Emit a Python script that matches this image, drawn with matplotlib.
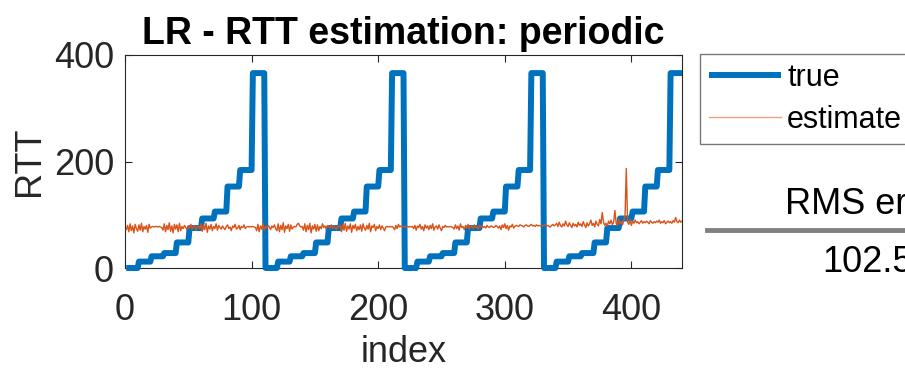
import numpy as np
import matplotlib
matplotlib.use('Agg')
import matplotlib.pyplot as plt

plt.rcParams['font.family'] = ['Liberation Sans Narrow', 'Liberation Sans', 'DejaVu Sans']

# step levels of the true RTT, one value per 10 samples, 4 periods
true_levels = [0, 12, 22, 28, 48, 75, 93, 106, 153, 184, 366,
               0, 12, 22, 28, 48, 75, 93, 106, 153, 184, 366,
               0, 12, 22, 28, 48, 75, 93, 106, 153, 184, 366,
               0, 12, 22, 28, 48, 75, 93, 106, 153, 184, 366]
samples_per_step = 10

estimate = [
    72, 80, 68, 83, 70, 79, 66, 82, 74, 69, 81, 71, 84, 68, 78, 73, 80, 67, 82, 75,
    77, 78, 77, 78, 78, 77, 78, 77, 76, 71, 83, 68, 80, 72, 85, 69, 79, 66, 82, 73,
    81, 68, 84, 70, 78, 74, 80, 76, 72, 79, 75, 82, 73, 77, 80, 71, 76, 79, 74, 83,
    69, 81, 72, 84, 67, 79, 73, 82, 70, 78, 74, 83, 71, 80, 76, 73, 79, 75, 72, 78,
    81, 74, 77, 70, 79, 76, 82, 73, 75, 80, 72, 78, 76, 81, 74, 77, 78, 77, 78, 77,
    78, 77, 76, 70, 82, 68, 79, 73, 84, 71, 78, 75, 80, 77, 72, 79, 76, 81, 74, 70,
    83, 68, 80, 72, 85, 67, 79, 74, 82, 69, 81, 73, 77, 78, 77, 82, 84, 79, 77, 78,
    71, 83, 68, 80, 72, 84, 66, 79, 73, 82, 69, 81, 70, 78, 74, 83, 76, 79, 73, 80,
    77, 75, 81, 74, 78, 76, 72, 79, 77, 80, 68, 82, 71, 84, 69, 79, 73, 83, 67, 80,
    74, 82, 70, 78, 72, 81, 69, 83, 75, 71, 80, 73, 84, 68, 79, 76, 82, 70, 78, 74,
    81, 72, 79, 75, 70, 77, 78, 77, 78, 77, 78, 76, 72, 80, 74, 82, 77, 79, 78, 77,
    78, 77, 78, 77, 78, 77, 78, 74, 80, 71, 79, 76, 82, 73, 78, 70, 81, 75, 79, 72,
    80, 74, 83, 71, 77, 79, 73, 81, 75, 70, 78, 76, 80, 77, 78, 77, 78, 77, 76, 73,
    81, 74, 79, 71, 83, 76, 78, 72, 80, 75, 82, 73, 79, 77, 74, 81, 76, 78, 73, 80,
    77, 79, 76, 78, 75, 80, 77, 76, 79, 78, 76, 77, 80, 78, 75, 79, 72, 81, 76, 83,
    74, 80, 71, 79, 77, 82, 75, 78, 80, 79, 78, 81, 80, 79, 77, 80, 81, 79, 78, 80,
    82, 79, 80, 78, 81, 79, 80, 79, 80, 79, 80, 81, 79, 80, 78, 77, 80, 82, 79, 81,
    84, 78, 86, 80, 77, 83, 79, 88, 81, 78, 85, 80, 76, 84, 79, 82, 77, 86, 80, 83,
    78, 87, 81, 76, 85, 79, 83, 90, 80, 84, 77, 88, 82, 79, 91, 83, 104, 86, 80, 84,
    79, 88, 83, 90, 81, 86, 108, 84, 80, 92, 83, 87, 81, 89, 98, 187, 86, 82, 91, 80,
    88, 84, 90, 85, 87, 83, 86, 89, 84, 87, 85, 88, 86, 83, 89, 86, 84, 87, 85, 88,
    86, 90, 84, 87, 85, 89, 83, 86, 88, 85, 87, 84, 89, 86, 95, 87, 85, 90, 86, 88,
]

rms_error = '102.5'

true_rtt = np.repeat(true_levels, samples_per_step)
idx = np.arange(1, len(true_rtt) + 1)

fig = plt.figure(figsize=(9.05, 3.75), dpi=100)
ax = fig.add_axes([125/905, 1-268/375, 557/905, 213/375])

gray = '#262626'
ax.plot(idx, true_rtt, color='#0072BD', lw=4.3, label='true', clip_on=False,
        solid_joinstyle='round', solid_capstyle='butt', zorder=3)
ax.plot(idx, estimate, color='#D95319', lw=1.0, label='estimate', zorder=4)

ax.set_xlim(0, 440)
ax.set_ylim(0, 400)
ax.set_xticks([0, 100, 200, 300, 400])
ax.set_yticks([0, 200, 400])
ax.tick_params(direction='in', length=5, width=0.8, colors=gray, labelsize=26,
               top=True, right=True)
ax.tick_params(axis='x', pad=18)
ax.tick_params(axis='y', pad=8)
for s in ax.spines.values():
    s.set_color(gray)
    s.set_linewidth(0.8)

ax.set_title('LR - RTT estimation: periodic', fontsize=27, fontweight='bold', pad=8)
ax.set_xlabel('index', fontsize=26, color=gray, labelpad=5)
ax.set_ylabel('RTT', fontsize=26, color=gray, labelpad=5)

leg = fig.legend(loc='upper left', bbox_to_anchor=(700/905, 1-54/375), fontsize=22,
                 frameon=True, fancybox=False, framealpha=1, edgecolor='#777777',
                 handlelength=2.35, handletextpad=0.2, labelspacing=0.38,
                 borderpad=0.3, borderaxespad=0)
leg.get_frame().set_linewidth(1.0)
leg.get_lines()[1].set_color('#F0A080')

# RMS error table at the right
fig.text(785/905, 1-214/375, 'RMS error', fontsize=26, color='black', va='baseline')
fig.add_artist(plt.Line2D([707/905, 1.0], [1-230/375, 1-230/375], color='#808080', lw=3.5,
                          transform=fig.transFigure))
fig.text(822/905, 1-272/375, rms_error, fontsize=26, color='black', va='baseline')

fig.savefig('out.png', dpi=100)
